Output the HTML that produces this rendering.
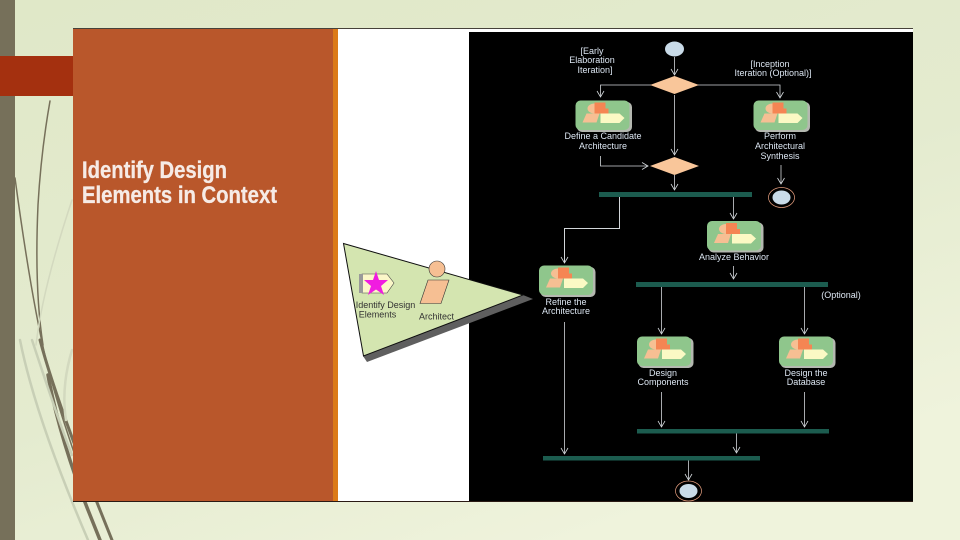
<!DOCTYPE html>
<html><head><meta charset="utf-8"><style>
html,body{margin:0;padding:0;background:#e6ecd2}
svg{display:block;width:960px;height:540px}
text{font-family:"Liberation Sans",sans-serif}
.l{font-size:9px;fill:#dce6f2;text-anchor:middle}
.k{font-size:9px;fill:#333;text-anchor:middle}
.c{fill:none;stroke:#d2d6da;stroke-width:0.800}
.bar{fill:#1f5c50}
</style></head><body>
<svg xmlns="http://www.w3.org/2000/svg" width="960" height="540" viewBox="0 0 960 540">
<defs>
<linearGradient id="bg" x1="0" y1="0" x2="0.6" y2="1"><stop offset="0" stop-color="#e0e8c8"/><stop offset="0.6" stop-color="#e4ebcf"/><stop offset="1" stop-color="#eff3dc"/></linearGradient>
<filter id="b" x="-5%" y="-5%" width="110%" height="110%"><feGaussianBlur stdDeviation="0.3"/></filter>
<g id="act">
<rect x="1.500" y="1.500" width="55" height="30" rx="5" fill="#b4b8b0"/>
<rect x="0" y="0" width="54" height="29.500" rx="5" fill="#8fc68c"/>
<ellipse cx="19" cy="8" rx="7" ry="5" fill="#f6bf93"/>
<path d="M7 22 L11 13 L24 13 L21 22Z" fill="#f6bf93"/>
<path d="M19 2 H30 V8 H33 V17 H25 V13 H19Z" fill="#f58552"/>
<path d="M25 13 H44 L49 17.500 L44 22.500 H25Z" fill="#fbf9c4"/>
</g>
<path id="ah" d="M-3.500 -6 L0 0 L3.500 -6" fill="none" stroke="#d5dade" stroke-width="0.800"/>
</defs>
<rect width="960" height="540" fill="url(#bg)"/>

<!-- decorative streaks -->
<g fill="none" stroke-linecap="round">
<path d="M50 101 C44 135 40 170 38 205 C36 250 36 300 43 345" stroke="#76705a" stroke-width="1.500"/>
<path d="M15 178 C22 230 32 300 46 360 C56 400 68 435 80 470" stroke="#76705a" stroke-width="1.500"/>
<path d="M40 340 C52 385 72 440 100 510 L112 540" stroke="#76705a" stroke-width="3"/>
<path d="M48 375 C56 420 72 470 88 510 L100 540" stroke="#76705a" stroke-width="3.500"/>
<path d="M20 340 C32 400 58 470 88 540" stroke="#c8cfb6" stroke-width="2.500"/>
<path d="M32 340 C42 370 58 420 72 455" stroke="#c8cfb6" stroke-width="2.500"/>
<path d="M72 350 C66 370 62 395 66 420" stroke="#d3d9bf" stroke-width="2.500"/>
<path d="M72 200 C52 260 40 310 36 345" stroke="#d3d9bf" stroke-width="1.500"/>
</g>

<rect x="0" y="0" width="15" height="540" fill="#76705a"/>
<rect x="0" y="56" width="73" height="40" fill="#a4300f"/>

<!-- panels -->
<rect x="73" y="28" width="840" height="473.500" fill="#fff"/>
<rect x="73" y="28" width="260" height="473" fill="#b9572b"/>
<rect x="333" y="28" width="5" height="473" fill="#dc7a18"/>
<rect x="469" y="32" width="444" height="469" fill="#000"/>
<rect x="73" y="28" width="840" height="1" fill="#46423a"/>
<rect x="73" y="501" width="840" height="1" fill="#2a1a14"/>

<g filter="url(#b)">
<text x="82" y="178" font-size="24" font-weight="bold" fill="#f6ebe6" stroke="#f6ebe6" stroke-width="0.300" textLength="145" lengthAdjust="spacingAndGlyphs">Identify Design</text>
<text x="82" y="203" font-size="24" font-weight="bold" fill="#f6ebe6" stroke="#f6ebe6" stroke-width="0.300" textLength="195" lengthAdjust="spacingAndGlyphs">Elements in Context</text>

<!-- callout -->
<path d="M363 356 L367 362 L533 299 L523 295Z" fill="#5f5f5f"/>
<path d="M343.500 243.500 L523 295 L363.500 356Z" fill="#d4e5b0" stroke="#111" stroke-width="1"/>
<circle cx="437" cy="269" r="8" fill="#f6bf93" stroke="#333" stroke-width="0.600"/>
<path d="M428 280 H449 L441 303.500 H420Z" fill="#f6bf93" stroke="#333" stroke-width="0.600"/>
<path d="M362 274 H387 L394 283 L387 293 H362Z" fill="#fbf7c8" stroke="#444" stroke-width="0.600"/>
<rect x="359" y="274" width="4" height="19" fill="#999"/>
<path d="M376 271 L379 280 L388 280 L381 286 L384 295 L376 289.500 L368 295 L371 286 L364 280 L373 280Z" fill="#f01ce0"/>
<text class="k" x="385.500" y="308">Identify Design</text>
<text class="k" x="377.500" y="317.500">Elements</text>
<text class="k" x="436.500" y="319.500">Architect</text>

<!-- connectors -->
<path class="c" d="M674.500 57 V75"/><use href="#ah" x="674.500" y="75"/>
<path class="c" d="M651 85 H600.500 V97"/><use href="#ah" x="600.500" y="97"/>
<path class="c" d="M697 85 H780 V98"/><use href="#ah" x="780" y="98"/>
<path class="c" d="M674.500 95 V155"/><use href="#ah" x="674.500" y="155"/>
<path class="c" d="M600.500 156 V166 H648"/><path d="M642 162.500 L648 166 L642 169.500" fill="none" stroke="#d5dade" stroke-width="0.800"/>
<path class="c" d="M674.500 175 V190"/><use href="#ah" x="674.500" y="190"/>
<path class="c" d="M781 165 V184"/><use href="#ah" x="781" y="184"/>
<path class="c" style="stroke-width:1" d="M619.500 197 V228.500 H564.500 V263"/><use href="#ah" x="564.500" y="263"/>
<path class="c" d="M733.500 197 V219"/><use href="#ah" x="733.500" y="219"/>
<path class="c" d="M733.500 266 V279"/><use href="#ah" x="733.500" y="279"/>
<path class="c" d="M661.500 287 V334"/><use href="#ah" x="661.500" y="334"/>
<path class="c" d="M804.500 287 V334"/><use href="#ah" x="804.500" y="334"/>
<path class="c" d="M564.500 322 V454"/><use href="#ah" x="564.500" y="454"/>
<path class="c" d="M661.500 392 V427"/><use href="#ah" x="661.500" y="427"/>
<path class="c" d="M804.500 392 V427"/><use href="#ah" x="804.500" y="427"/>
<path class="c" d="M736.500 433 V453"/><use href="#ah" x="736.500" y="453"/>
<path class="c" d="M688.500 460 V480"/><use href="#ah" x="688.500" y="480"/>

<!-- start / end -->
<ellipse cx="674.500" cy="49" rx="9.500" ry="7.500" fill="#c9dbe8"/>
<ellipse cx="781.500" cy="197.500" rx="13" ry="10" fill="#000" stroke="#e8a080" stroke-width="0.700"/>
<ellipse cx="781.500" cy="197.500" rx="9" ry="7" fill="#c9dbe8"/>
<ellipse cx="688.500" cy="491" rx="13" ry="10" fill="#000" stroke="#e8a080" stroke-width="0.700"/>
<ellipse cx="688.500" cy="491" rx="9" ry="7" fill="#c9dbe8"/>

<!-- diamonds -->
<path d="M650 85 L674.500 76 L699 85 L674.500 94Z" fill="#f9c69a"/>
<path d="M650 166 L674.500 157 L699 166 L674.500 175Z" fill="#f9c69a"/>

<!-- bars -->
<rect class="bar" x="599" y="192" width="153" height="5"/>
<rect class="bar" x="636" y="282" width="192" height="5"/>
<rect class="bar" x="637" y="429" width="192" height="4.500"/>
<rect class="bar" x="543" y="456" width="217" height="4.500"/>

<!-- activities -->
<use href="#act" x="575.500" y="100.500"/>
<use href="#act" x="753.500" y="100.500"/>
<use href="#act" x="707" y="221"/>
<use href="#act" x="539" y="265.500"/>
<use href="#act" x="637" y="336.500"/>
<use href="#act" x="779" y="336.500"/>

<!-- labels -->
<text class="l" x="592" y="54">[Early</text>
<text class="l" x="592" y="63">Elaboration</text>
<text class="l" x="595" y="73">Iteration]</text>
<text class="l" x="770" y="67">[Inception</text>
<text class="l" x="773" y="76">Iteration (Optional)]</text>
<text class="l" x="603" y="139">Define a Candidate</text>
<text class="l" x="603" y="149">Architecture</text>
<text class="l" x="780" y="139">Perform</text>
<text class="l" x="780" y="149">Architectural</text>
<text class="l" x="780" y="159">Synthesis</text>
<text class="l" x="734" y="260">Analyze Behavior</text>
<text class="l" x="566" y="305">Refine the</text>
<text class="l" x="566" y="314">Architecture</text>
<text class="l" x="841" y="298">(Optional)</text>
<text class="l" x="663" y="376">Design</text>
<text class="l" x="663" y="385">Components</text>
<text class="l" x="806" y="376">Design the</text>
<text class="l" x="806" y="385">Database</text>
</g>
</svg>
</body></html>
